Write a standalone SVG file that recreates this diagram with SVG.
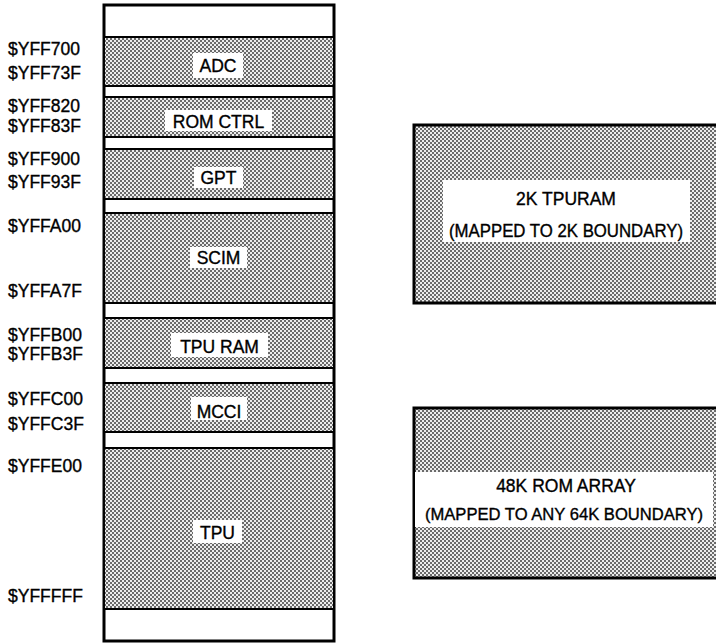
<svg xmlns="http://www.w3.org/2000/svg" width="716" height="643" viewBox="0 0 716 643">
<defs>
<pattern id="dots" width="4" height="4" patternUnits="userSpaceOnUse">
<rect width="4" height="4" fill="#ececec"/>
<rect width="2" height="2" fill="#6a6a6a"/>
<rect x="2" y="2" width="2" height="2" fill="#6a6a6a"/>
</pattern>
</defs>
<style>
text{font-family:"Liberation Sans",Arial,sans-serif;font-size:17.5px;fill:#000;stroke:#000;stroke-width:0.35}
.addr{text-anchor:start}
.lbl{text-anchor:middle}
.sm{font-size:16.6px}
.blk{fill:url(#dots);stroke:#000;stroke-width:2}
.box{fill:url(#dots);stroke:#000;stroke-width:3}
.bg{fill:#fff}
</style>
<rect width="716" height="643" fill="#fff"/>
<g id="memory-map">
<rect x="104" y="5" width="230" height="636" fill="#fff" stroke="#000" stroke-width="3"/>
</g>
<g id="adc">
<rect class="blk" x="104" y="37" width="230" height="49"/>
<rect class="bg" x="193" y="53" width="50" height="25"/>
<text class="lbl" x="218" y="72">ADC</text>
</g>
<g id="romctrl">
<rect class="blk" x="104" y="97" width="230" height="40"/>
<rect class="bg" x="165" y="110" width="107" height="21"/>
<text class="lbl" x="218.5" y="128">ROM CTRL</text>
</g>
<g id="gpt">
<rect class="blk" x="104" y="149" width="230" height="50"/>
<rect class="bg" x="194" y="167" width="49" height="21"/>
<text class="lbl" x="218.5" y="184">GPT</text>
</g>
<g id="scim">
<rect class="blk" x="104" y="213" width="230" height="90"/>
<rect class="bg" x="190" y="247" width="57" height="21"/>
<text class="lbl" x="218.5" y="264">SCIM</text>
</g>
<g id="tpuram">
<rect class="blk" x="104" y="318" width="230" height="50"/>
<rect class="bg" x="171" y="333" width="97" height="24"/>
<text class="lbl" x="219.5" y="353">TPU RAM</text>
</g>
<g id="mcci">
<rect class="blk" x="104" y="383" width="230" height="49"/>
<rect class="bg" x="191" y="397" width="56" height="23"/>
<text class="lbl" x="219" y="418">MCCI</text>
</g>
<g id="tpu">
<rect class="blk" x="104" y="448" width="230" height="161"/>
<rect class="bg" x="193" y="520" width="49" height="23"/>
<text class="lbl" x="217.5" y="539">TPU</text>
</g>
<g id="addresses">
<text class="addr" x="8" y="55">$YFF700</text>
<text class="addr" x="8" y="79">$YFF73F</text>
<text class="addr" x="8" y="112">$YFF820</text>
<text class="addr" x="8" y="132">$YFF83F</text>
<text class="addr" x="8" y="165">$YFF900</text>
<text class="addr" x="8" y="188">$YFF93F</text>
<text class="addr" x="8" y="232">$YFFA00</text>
<text class="addr" x="8" y="297">$YFFA7F</text>
<text class="addr" x="8" y="341">$YFFB00</text>
<text class="addr" x="8" y="360">$YFFB3F</text>
<text class="addr" x="8" y="405">$YFFC00</text>
<text class="addr" x="8" y="430">$YFFC3F</text>
<text class="addr" x="8" y="472">$YFFE00</text>
<text class="addr" x="8" y="602">$YFFFFF</text>
</g>
<g id="tpuram2k">
<rect class="box" x="414" y="125" width="310" height="178"/>
<rect class="bg" x="443" y="180" width="247" height="62"/>
<text class="lbl" x="566" y="205">2K TPURAM</text>
<text class="lbl" x="566" y="237" textLength="234" lengthAdjust="spacingAndGlyphs">(MAPPED TO 2K BOUNDARY)</text>
</g>
<g id="romarray">
<rect class="box" x="414" y="408" width="310" height="170"/>
<rect class="bg" x="415" y="472" width="298" height="55"/>
<text class="lbl" x="566" y="492">48K ROM ARRAY</text>
<text class="lbl sm" x="564" y="520">(MAPPED TO ANY 64K BOUNDARY)</text>
</g>
<g id="connectors"/>
</svg>
